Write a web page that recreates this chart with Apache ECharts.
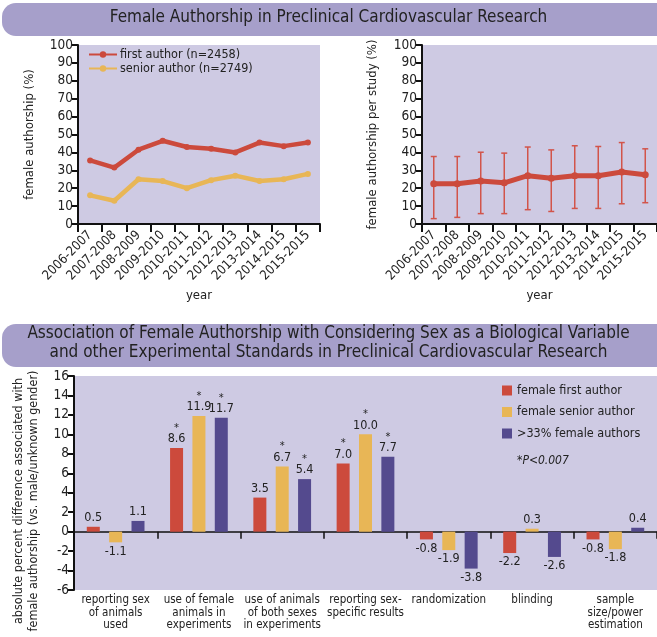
<!DOCTYPE html>
<html><head><meta charset="utf-8">
<script src="https://cdn.jsdelivr.net/npm/echarts@6/dist/echarts.min.js"></script>
<style>html,body{margin:0;padding:0;background:#fff}#c{width:657px;height:637px}</style>
</head><body><div id="c"></div>
<script>
// ---- data ----
const years = ['2006-2007','2007-2008','2008-2009','2009-2010','2010-2011','2011-2012','2012-2013','2013-2014','2014-2015','2015-2015'];
const firstAuthor = [35.5, 31.5, 41.5, 46.5, 43, 42, 40, 45.5, 43.5, 45.5];
const seniorAuthor = [16, 13, 25, 24, 20, 24.5, 27, 24, 25, 28];
const perStudyMean = [22.5, 22.5, 24, 23, 27, 25.5, 27, 27, 29, 27.5];
const perStudyLow = [3, 3.7, 5.8, 5.8, 8, 7, 8.7, 8.7, 11.3, 11.9];
const perStudyHigh = [37.7, 37.7, 40.1, 39.6, 43, 41.4, 43.7, 43.3, 45.5, 42];
const standards = ['reporting sex\nof animals\nused','use of female\nanimals in\nexperiments','use of animals\nof both sexes\nin experiments','reporting sex-\nspecific results','randomization','blinding','sample\nsize/power\nestimation'];
const femaleFirst = [0.5, 8.6, 3.5, 7.0, -0.8, -2.2, -0.8];
const femaleSenior = [-1.1, 11.9, 6.7, 10.0, -1.9, 0.3, -1.8];
const over33 = [1.1, 11.7, 5.4, 7.7, -3.8, -2.6, 0.4];
const sigFirst = [false, true, false, true, false, false, false];
const sigSenior = [false, true, true, true, false, false, false];
const sigOver33 = [false, true, true, true, false, false, false];
const pctTicks = {min: 0, max: 100, interval: 10};
const diffTicks = {min: -6, max: 16, interval: 2};

// ---- styles ----
const FONT = "'DejaVu Sans Condensed','Liberation Sans Narrow','Roboto',sans-serif";
const RED = '#cc4a3c', YEL = '#e8b656', PUR = '#544a8e';
const BG = '#cecae3', BANNER = '#a69fca', TXT = '#222';

const chart = echarts.init(document.getElementById('c'));

function axisY(gridIndex, ticks, name, nameGap, extra) {
  return Object.assign({
    type: 'value', gridIndex, min: ticks.min, max: ticks.max, interval: ticks.interval,
    name, nameLocation: 'middle', nameGap,
    nameTextStyle: {fontFamily: FONT, fontSize: 13, color: TXT},
    axisLine: {show: true, lineStyle: {color: '#111', width: 2}},
    axisTick: {show: true, length: 6, lineStyle: {color: '#111', width: 2}},
    axisLabel: {fontFamily: FONT, fontSize: 13.5, color: TXT, margin: 5},
    splitLine: {show: false}
  }, extra || {});
}
function axisYears(gridIndex) {
  return {
    type: 'category', gridIndex, data: years, boundaryGap: true,
    name: 'year', nameLocation: 'middle', nameGap: 65,
    nameTextStyle: {fontFamily: FONT, fontSize: 13, color: TXT},
    axisLine: {lineStyle: {color: '#111', width: 2}},
    axisTick: {show: true, interval: 0, length: 8, lineStyle: {color: '#111', width: 2}},
    axisLabel: {interval: 0, rotate: 45, fontFamily: FONT, fontSize: 13, color: TXT, margin: 9}
  };
}
function barLabels(values, sig) {
  return values.map((v, i) => ({
    value: v,
    label: {
      show: true, position: v >= 0 ? 'top' : 'bottom', distance: 2,
      formatter: (sig[i] ? '{s|*}\n' : '') + '{v|' + v.toFixed(1) + '}',
      rich: {
        s: {fontFamily: FONT, fontSize: 11, color: TXT, lineHeight: 8, align: 'center'},
        v: {fontFamily: FONT, fontSize: 12.5, color: TXT, lineHeight: 14, align: 'center'}
      }
    }
  }));
}

const option = {
  backgroundColor: '#fff',
  animation: false,
  textStyle: {fontFamily: FONT},
  graphic: [
    {type: 'rect', shape: {x: 2, y: 3, width: 680, height: 33, r: 14}, style: {fill: BANNER}, z: -1},
    {type: 'rect', shape: {x: 2, y: 324, width: 680, height: 43, r: 14}, style: {fill: BANNER}, z: -1},
    {type: 'text', left: 517, top: 455, style: {text: '*P<0.007', font: 'italic 12px ' + FONT, fill: TXT}},
    {type: 'text', x: 26, y: 501, rotation: Math.PI / 2,
     style: {text: 'absolute percent difference associated with\nfemale authorship (vs. male/unknown gender)',
             font: '12.5px ' + FONT, fill: TXT, align: 'center', verticalAlign: 'middle', lineHeight: 15}}
  ],
  title: [
    {text: 'Female Authorship in Preclinical Cardiovascular Research', left: 'center', top: 9, padding: 0,
     textStyle: {fontFamily: FONT, fontSize: 17, fontWeight: 'normal', color: TXT}},
    {text: 'Association of Female Authorship with Considering Sex as a Biological Variable', left: 'center', top: 325, padding: 0,
     textStyle: {fontFamily: FONT, fontSize: 17, fontWeight: 'normal', color: TXT}},
    {text: 'and other Experimental Standards in Preclinical Cardiovascular Research', left: 'center', top: 344, padding: 0,
     textStyle: {fontFamily: FONT, fontSize: 17, fontWeight: 'normal', color: TXT}}
  ],
  legend: [
    {orient: 'vertical', left: 88, top: 48, itemWidth: 28, itemHeight: 8, itemGap: 1, padding: 0,
     data: ['first author (n=2458)', 'senior author (n=2749)'],
     textStyle: {fontFamily: FONT, fontSize: 12.5, color: TXT, padding: [0, 0, 0, -2]}},
    {orient: 'vertical', left: 502, top: 384, itemWidth: 10, itemHeight: 10, itemGap: 8.5, icon: 'rect', padding: 0,
     data: ['female first author', 'female senior author', '>33% female authors'],
     textStyle: {fontFamily: FONT, fontSize: 12.5, color: TXT}}
  ],
  grid: [
    {left: 78, top: 45, width: 242, height: 179, show: true, backgroundColor: BG, borderWidth: 0},
    {left: 422, top: 45, width: 245, height: 179, show: true, backgroundColor: BG, borderWidth: 0},
    {left: 74, top: 376, width: 588, height: 214, show: true, backgroundColor: BG, borderWidth: 0}
  ],
  xAxis: [
    axisYears(0),
    axisYears(1),
    {type: 'category', gridIndex: 2, data: standards, position: 'bottom',
     axisLine: {show: false, onZero: false}, axisTick: {show: false},
     axisLabel: {interval: 0, fontFamily: FONT, fontSize: 11.5, color: TXT, lineHeight: 12.5, margin: 4}},
    {type: 'category', gridIndex: 2, data: standards, position: 'top',
     axisLine: {show: true, onZero: true, lineStyle: {color: '#111', width: 1.5}},
     axisTick: {show: true, inside: true, interval: 0, length: 7, lineStyle: {color: '#111', width: 1.5}},
     axisLabel: {show: false}}
  ],
  yAxis: [
    axisY(0, pctTicks, 'female authorship (%)', 42),
    axisY(1, pctTicks, 'female authorship per study (%)', 43),
    axisY(2, diffTicks, '', 30,
      {axisLine: {show: true, onZero: false, lineStyle: {color: '#111', width: 2}}})
  ],
  series: [
    {name: 'first author (n=2458)', type: 'line', xAxisIndex: 0, yAxisIndex: 0, data: firstAuthor,
     symbol: 'circle', symbolSize: 6, itemStyle: {color: RED}, lineStyle: {color: RED, width: 4.5}},
    {name: 'senior author (n=2749)', type: 'line', xAxisIndex: 0, yAxisIndex: 0, data: seniorAuthor,
     symbol: 'circle', symbolSize: 6, itemStyle: {color: YEL}, lineStyle: {color: YEL, width: 4.5}},
    {type: 'custom', xAxisIndex: 1, yAxisIndex: 1, z: 2,
     data: years.map((y, i) => [i, perStudyLow[i], perStudyHigh[i]]),
     renderItem: function (params, api) {
       const lo = api.coord([api.value(0), api.value(1)]);
       const hi = api.coord([api.value(0), api.value(2)]);
       const w = 3;
       const st = {stroke: '#d2544a', lineWidth: 1.5};
       return {type: 'group', children: [
         {type: 'line', shape: {x1: lo[0], y1: lo[1], x2: hi[0], y2: hi[1]}, style: st},
         {type: 'line', shape: {x1: lo[0] - w, y1: lo[1], x2: lo[0] + w, y2: lo[1]}, style: st},
         {type: 'line', shape: {x1: hi[0] - w, y1: hi[1], x2: hi[0] + w, y2: hi[1]}, style: st}
       ]};
     }},
    {type: 'line', xAxisIndex: 1, yAxisIndex: 1, data: perStudyMean, z: 3,
     symbol: 'circle', symbolSize: 7, itemStyle: {color: RED}, lineStyle: {color: RED, width: 5}},
    {name: 'female first author', type: 'bar', xAxisIndex: 2, yAxisIndex: 2, data: barLabels(femaleFirst, sigFirst),
     barWidth: 13, barGap: '72%', itemStyle: {color: RED}},
    {name: 'female senior author', type: 'bar', xAxisIndex: 2, yAxisIndex: 2, data: barLabels(femaleSenior, sigSenior),
     barWidth: 13, barGap: '72%', itemStyle: {color: YEL}},
    {name: '>33% female authors', type: 'bar', xAxisIndex: 2, yAxisIndex: 2, data: barLabels(over33, sigOver33),
     barWidth: 13, barGap: '72%', itemStyle: {color: PUR}}
  ]
};
chart.setOption(option);
</script>
</body></html>
